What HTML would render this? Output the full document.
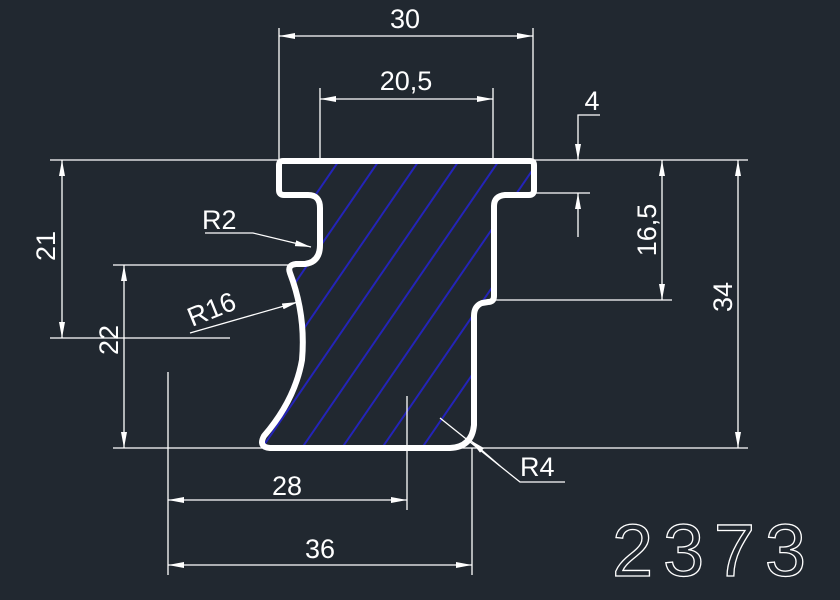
<!DOCTYPE html>
<html><head><style>html,body{margin:0;padding:0;background:#212830;}svg{display:block}</style></head><body>
<svg width="840" height="600" viewBox="0 0 840 600" xmlns="http://www.w3.org/2000/svg">
<defs>
<clipPath id="pc"><path id="prof" d="M283,161 L530,161 Q534,161 534,165 L534,190 Q534,195 529,195 L505,195 Q494,196 494,206 L494,296 Q494,302 488,302 L482,303 Q474,306 474,316 L474,425 Q472,447 450,448 L270,448 Q258,447 264,436 Q295,400 302,360 Q306,315 290,273 Q287,265 296,264 L305,264 Q320,262 320,245 L320,208 Q320,195 308,195 L284,195 Q279,195 279,190 L279,165 Q279,161 283,161 Z"/></clipPath>
<marker id="a" viewBox="0 0 16 6" refX="16" refY="3" markerWidth="16" markerHeight="6" orient="auto" markerUnits="userSpaceOnUse"><path d="M0,0 L16,3 L0,6 Z" fill="#fff"/></marker>
</defs>
<rect width="840" height="600" fill="#212830"/>
<g clip-path="url(#pc)" stroke="#2424b8" stroke-width="2">
<path d="M200,480 L440,130 M240,480 L480,130 M280,480 L520,130 M320,480 L560,130 M360,480 L600,130 M400,480 L640,130 M160,480 L400,130 M120,480 L360,130 M440,480 L680,130 M480,480 L720,130"/>
</g>
<g stroke="#fff" stroke-width="1.3" fill="none">
<!-- extension lines -->
<line x1="279" y1="28" x2="279" y2="160"/><line x1="533" y1="28" x2="533" y2="160"/>
<line x1="320" y1="88" x2="320" y2="160"/><line x1="493" y1="88" x2="493" y2="160"/>
<line x1="50" y1="160" x2="748" y2="160"/>
<line x1="113" y1="448" x2="748" y2="448"/>
<line x1="536" y1="193" x2="590" y2="193"/>
<line x1="496" y1="300" x2="672" y2="300"/>
<line x1="50" y1="338" x2="230" y2="338"/>
<line x1="113" y1="265" x2="290" y2="265"/>
<line x1="168" y1="372" x2="168" y2="575"/>
<line x1="407" y1="396" x2="407" y2="510"/>
<line x1="472" y1="448" x2="472" y2="575"/>
<!-- dims -->
<line x1="300" y1="36" x2="279" y2="36" marker-end="url(#a)"/><line x1="300" y1="36" x2="533" y2="36" marker-end="url(#a)"/>
<line x1="400" y1="99" x2="320" y2="99" marker-end="url(#a)"/><line x1="400" y1="99" x2="493" y2="99" marker-end="url(#a)"/>
<polyline points="600,115 578,115 578,160" marker-end="url(#a)"/>
<line x1="578" y1="237" x2="578" y2="193" marker-end="url(#a)"/>
<line x1="662" y1="230" x2="662" y2="160" marker-end="url(#a)"/><line x1="662" y1="230" x2="662" y2="300" marker-end="url(#a)"/>
<line x1="738" y1="300" x2="738" y2="160" marker-end="url(#a)"/><line x1="738" y1="300" x2="738" y2="448" marker-end="url(#a)"/>
<line x1="62" y1="250" x2="62" y2="160" marker-end="url(#a)"/><line x1="62" y1="250" x2="62" y2="338" marker-end="url(#a)"/>
<line x1="124" y1="350" x2="124" y2="265" marker-end="url(#a)"/><line x1="124" y1="350" x2="124" y2="448" marker-end="url(#a)"/>
<line x1="290" y1="500" x2="168" y2="500" marker-end="url(#a)"/><line x1="290" y1="500" x2="407" y2="500" marker-end="url(#a)"/>
<line x1="320" y1="565" x2="168" y2="565" marker-end="url(#a)"/><line x1="320" y1="565" x2="472" y2="565" marker-end="url(#a)"/>
<polyline points="205,233 253,233 311,247" marker-end="url(#a)"/>
<line x1="190" y1="333" x2="298" y2="302" marker-end="url(#a)"/>
<polyline points="565,482 520,482 440,418"/>
<line x1="500" y1="466" x2="470" y2="440" marker-end="url(#a)"/>
</g>
<use href="#prof" fill="none" stroke="#fff" stroke-width="6"/>
<g fill="#fff" font-family="Liberation Sans, sans-serif" font-size="27">
<text x="405" y="28" text-anchor="middle">30</text>
<text x="406" y="90" text-anchor="middle">20,5</text>
<text x="592" y="110" text-anchor="middle">4</text>
<text x="520" y="476">R4</text>
<text x="202" y="229">R2</text>
<text x="192" y="327" transform="rotate(-22 192 327)">R16</text>
<text x="287" y="495" text-anchor="middle">28</text>
<text x="320" y="558" text-anchor="middle">36</text>
<text transform="translate(656 230) rotate(-90)" text-anchor="middle">16,5</text>
<text transform="translate(732 297) rotate(-90)" text-anchor="middle">34</text>
<text transform="translate(55 246) rotate(-90)" text-anchor="middle">21</text>
<text transform="translate(118 340) rotate(-90)" text-anchor="middle">22</text>
</g>
<text x="612" y="576" font-family="Liberation Sans, sans-serif" font-size="74" fill="none" stroke="#fff" stroke-width="1.3" textLength="194">2373</text>
</svg>
</body></html>
